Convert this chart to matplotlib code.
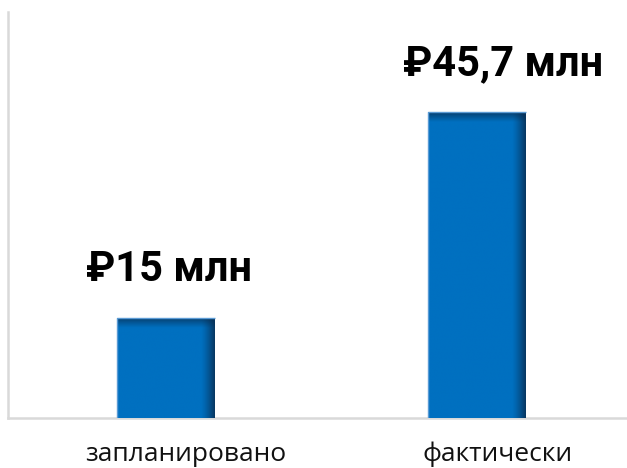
import matplotlib
matplotlib.use("Agg")
import matplotlib.pyplot as plt
import matplotlib.transforms as mtransforms
import numpy as np

categories = ["запланировано", "фактически"]
values = [15, 45.7]
value_labels = ["₽15 млн", "₽45,7 млн"]

base = np.array([0, 112, 192]) / 255.0
dark = np.array([8, 52, 92]) / 255.0

fig = plt.figure(figsize=(6.27, 4.68), dpi=100)
ax = fig.add_axes([8 / 627, 1 - 418 / 468, 619 / 627, 406 / 468])

x = np.arange(len(categories))
width = 0.315
bars = ax.bar(x, values, width=width, color=base, edgecolor="none", zorder=2)

ax.set_xlim(-0.508, 1.482)
ax.set_ylim(0, 60.6)

# shaded fill clipped to each bar
for b in bars:
    x0, y0 = b.get_x(), b.get_y()
    w, h = b.get_width(), b.get_height()
    nx, ny = 200, 400
    xs = np.linspace(0, 1, nx)
    ys = np.linspace(0, h, ny)
    rs = np.clip((xs - 0.86) / 0.14, 0, 1) ** 1.3
    dist_top = h - ys
    ts = np.clip(1 - dist_top / 1.6, 0, 1) ** 1.1
    shade = np.clip(rs[None, :] * 0.95 + ts[:, None] * 0.9
                    - rs[None, :] * ts[:, None] * 0.7, 0, 1)
    img = base[None, None, :] * (1 - shade[..., None]) + dark[None, None, :] * shade[..., None]
    im = ax.imshow(img, extent=(x0, x0 + w, y0, y0 + h), origin="lower",
                   aspect="auto", interpolation="bilinear", zorder=3)
    im.set_clip_path(b)
    ax.plot([x0, x0, x0 + w], [y0, y0 + h, y0 + h], color="#5b9bd5",
            lw=1.0, zorder=4, solid_capstyle="butt")

# value labels
label_offsets = [2.2, 19]
for xi, v, t, off in zip(x, values, value_labels, label_offsets):
    ax.annotate(t, xy=(xi, v), xytext=(off, 26), textcoords="offset points",
                ha="center", va="baseline", fontsize=30, fontweight="bold",
                family=["Roboto", "DejaVu Sans"], color="#000000", zorder=5)

ax.set_xticks(x)
ax.set_xticklabels(categories, fontsize=19, family=["Open Sans", "DejaVu Sans"], color="#111111")
ax.tick_params(axis="x", length=0, pad=17)
offset = mtransforms.ScaledTranslation(20 / 100, 0, fig.dpi_scale_trans)
for lbl in ax.get_xticklabels():
    lbl.set_transform(lbl.get_transform() + offset)
ax.set_yticks([])

for s in ["top", "right"]:
    ax.spines[s].set_visible(False)
for s in ["left", "bottom"]:
    ax.spines[s].set_color("#d9d9d9")
    ax.spines[s].set_linewidth(1.8)

fig.savefig("out.png", dpi=100)
